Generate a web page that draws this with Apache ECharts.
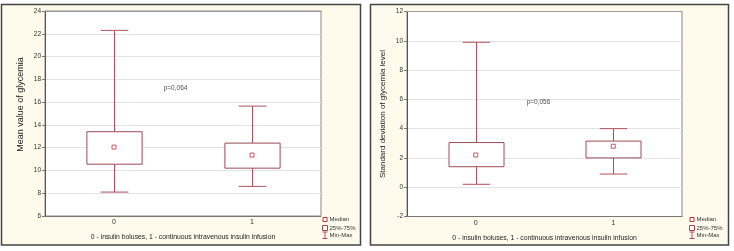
<!DOCTYPE html>
<html>
<head>
<meta charset="utf-8">
<script src="https://cdn.jsdelivr.net/npm/echarts@6/dist/echarts.min.js"></script>
<style>
  html, body { margin: 0; padding: 0; background: #fff; }
  #chart { width: 734px; height: 251px; }
</style>
</head>
<body>
<div id="chart"></div>
<script>
// groups: 0 - insulin boluses, 1 - continuous intravenous insulin infusion
const groups = ['0', '1'];

// left panel: mean value of glycemia
const meanMin = [8.1, 8.6];
const meanQ1 = [10.55, 10.2];
const meanMed = [12.05, 11.35];
const meanQ3 = [13.4, 12.4];
const meanMax = [22.3, 15.65];

// right panel: standard deviation of glycemia level
const sdMin = [0.2, 0.9];
const sdQ1 = [1.4, 2.0];
const sdMed = [2.2, 2.8];
const sdQ3 = [3.05, 3.15];
const sdMax = [9.9, 4.0];

const pLabels = ['p=0,064', 'p=0,056'];
const pAt = [[0.36, 17.2], [0.37, 5.8]];

const FONT = 'Liberation Sans, Arial, sans-serif';
const BOX = '#9c4a55';
const WHISK = '#b0505c';
const MED = '#c0303c';

var myChart = echarts.init(document.getElementById('chart'));

function rows(mn, q1, q3, mx) {
    return groups.map((g, i) => [i, mn[i], q1[i], q3[i], mx[i]]);
}

function renderBox(params, api) {
    const x = api.value(0);
    const pMin = api.coord([x, api.value(1)]);
    const pQ1 = api.coord([x, api.value(2)]);
    const pQ3 = api.coord([x, api.value(3)]);
    const pMax = api.coord([x, api.value(4)]);
    const band = api.size([1, 0])[0];
    const bw = band * 0.2;   // half box width
    const cw = band * 0.1;   // half cap width
    const cx = Math.round(pMin[0]) + 0.5;
    const ln = { stroke: WHISK, lineWidth: 1 };
    return {
        type: 'group',
        children: [
            { type: 'line', shape: { x1: cx, y1: pMin[1], x2: cx, y2: pQ1[1] }, style: ln },
            { type: 'line', shape: { x1: cx, y1: pQ3[1], x2: cx, y2: pMax[1] }, style: ln },
            { type: 'line', shape: { x1: cx - cw, y1: pMin[1], x2: cx + cw, y2: pMin[1] }, style: ln },
            { type: 'line', shape: { x1: cx - cw, y1: pMax[1], x2: cx + cw, y2: pMax[1] }, style: ln },
            {
                type: 'rect',
                shape: { x: cx - bw, y: pQ3[1], width: bw * 2, height: pQ1[1] - pQ3[1] },
                style: { fill: '#fff', stroke: BOX, lineWidth: 1 }
            }
        ]
    };
}

function xAxes(gi) {
    return [{
        type: 'category',
        gridIndex: gi,
        data: groups,
        boundaryGap: true,
        axisLine: { onZero: false, lineStyle: { color: '#777' } },
        axisTick: { alignWithLabel: true, length: 3, lineStyle: { color: '#999' } },
        axisLabel: { fontSize: 7, color: '#333', fontFamily: FONT, margin: 3 },
        name: '0 - insulin boluses, 1 - continuous intravenous insulin infusion',
        nameLocation: 'middle',
        nameGap: 18,
        nameTextStyle: { fontSize: 6.8, color: '#222', fontFamily: FONT },
        splitLine: { show: false }
    }, {
        type: 'category',
        gridIndex: gi,
        position: 'top',
        data: groups,
        axisLine: { onZero: false, lineStyle: { color: '#999' } },
        axisTick: { alignWithLabel: true, inside: true, length: 3, lineStyle: { color: '#bbb' } },
        axisLabel: { show: false }
    }, {
        // hidden continuous axis, used only to place the p-value notes
        type: 'value',
        gridIndex: gi,
        min: -0.5,
        max: 1.5,
        show: false
    }];
}

function yAxis(gi, min, max, name, size, gap, shift) {
    return {
        type: 'value',
        gridIndex: gi,
        min: min,
        max: max,
        interval: 2,
        axisLine: { show: true, onZero: false, lineStyle: { color: '#555' } },
        axisTick: { show: true, length: 3, lineStyle: { color: '#777' } },
        axisLabel: { fontSize: 6.5, color: '#333', fontFamily: FONT, margin: 4 },
        splitLine: { lineStyle: { color: '#e2e2e2' } },
        name: name,
        nameLocation: 'middle',
        nameGap: gap,
        nameTextStyle: { fontSize: size, color: '#222', fontFamily: FONT, padding: [0, 0, 0, shift] }
    };
}

function legendGraphic(x) {
    const t = { fontSize: 6, fill: '#333', fontFamily: FONT, verticalAlign: 'middle' };
    return [
        { type: 'rect', shape: { x: x - 2, y: 217.5, width: 4, height: 4 }, style: { fill: '#fff', stroke: MED, lineWidth: 1 } },
        { type: 'text', x: x + 4.5, y: 219.5, style: Object.assign({ text: 'Median' }, t) },
        { type: 'rect', shape: { x: x - 2.5, y: 225.5, width: 5, height: 5 }, style: { fill: '#fff', stroke: BOX, lineWidth: 1 } },
        { type: 'text', x: x + 4.5, y: 228, style: Object.assign({ text: '25%-75%' }, t) },
        { type: 'polyline', shape: { points: [[x, 232], [x, 238.5]] }, style: { stroke: WHISK, lineWidth: 1 } },
        { type: 'polyline', shape: { points: [[x - 2.5, 232], [x + 2.5, 232]] }, style: { stroke: WHISK, lineWidth: 1 } },
        { type: 'polyline', shape: { points: [[x - 2.5, 238.5], [x + 2.5, 238.5]] }, style: { stroke: WHISK, lineWidth: 1 } },
        { type: 'text', x: x + 4.5, y: 235.5, style: Object.assign({ text: 'Min-Max' }, t) }
    ];
}

function pNote(xi, yi, k) {
    return {
        type: 'scatter',
        xAxisIndex: xi, yAxisIndex: yi,
        symbolSize: 0,
        silent: true,
        label: { show: true, position: 'right', distance: 0, formatter: pLabels[k], fontSize: 6.5, color: '#222', fontFamily: FONT },
        data: [pAt[k]]
    };
}

var option = {
    backgroundColor: '#fff',
    animation: false,
    graphic: [
        { type: 'rect', z: -10, shape: { x: 1.5, y: 4.5, width: 359, height: 240.5 }, style: { fill: '#fefaec', stroke: '#444', lineWidth: 1.5 } },
        { type: 'rect', z: -10, shape: { x: 370.5, y: 4.5, width: 358, height: 240.5 }, style: { fill: '#fefaec', stroke: '#444', lineWidth: 1.5 } }
    ].concat(legendGraphic(325), legendGraphic(692)),
    grid: [
        { left: 45, top: 11, width: 276, height: 205, show: true, backgroundColor: '#fff', borderColor: '#888', borderWidth: 1 },
        { left: 407, top: 11.5, width: 275, height: 205, show: true, backgroundColor: '#fff', borderColor: '#888', borderWidth: 1 }
    ],
    xAxis: xAxes(0).concat(xAxes(1)),
    yAxis: [
        yAxis(0, 6, 24, 'Mean value of glycemia', 9, 20, 18),
        yAxis(1, -2, 12, 'Standard deviation of glycemia level', 8, 20, 0)
    ],
    series: [{
        type: 'custom',
        xAxisIndex: 0, yAxisIndex: 0,
        renderItem: renderBox,
        encode: { x: 0, y: [1, 2, 3, 4] },
        data: rows(meanMin, meanQ1, meanQ3, meanMax),
        z: 2
    }, {
        type: 'scatter',
        xAxisIndex: 0, yAxisIndex: 0,
        symbol: 'rect', symbolSize: 4,
        itemStyle: { color: '#fff', borderColor: MED, borderWidth: 1 },
        data: groups.map((g, i) => [i, meanMed[i]]),
        z: 3
    }, {
        type: 'custom',
        xAxisIndex: 3, yAxisIndex: 1,
        renderItem: renderBox,
        encode: { x: 0, y: [1, 2, 3, 4] },
        data: rows(sdMin, sdQ1, sdQ3, sdMax),
        z: 2
    }, {
        type: 'scatter',
        xAxisIndex: 3, yAxisIndex: 1,
        symbol: 'rect', symbolSize: 4,
        itemStyle: { color: '#fff', borderColor: MED, borderWidth: 1 },
        data: groups.map((g, i) => [i, sdMed[i]]),
        z: 3
    },
    pNote(2, 0, 0),
    pNote(5, 1, 1)]
};
myChart.setOption(option);
window.addEventListener('resize', function () {
    myChart.resize();
});
</script>
</body>
</html>
